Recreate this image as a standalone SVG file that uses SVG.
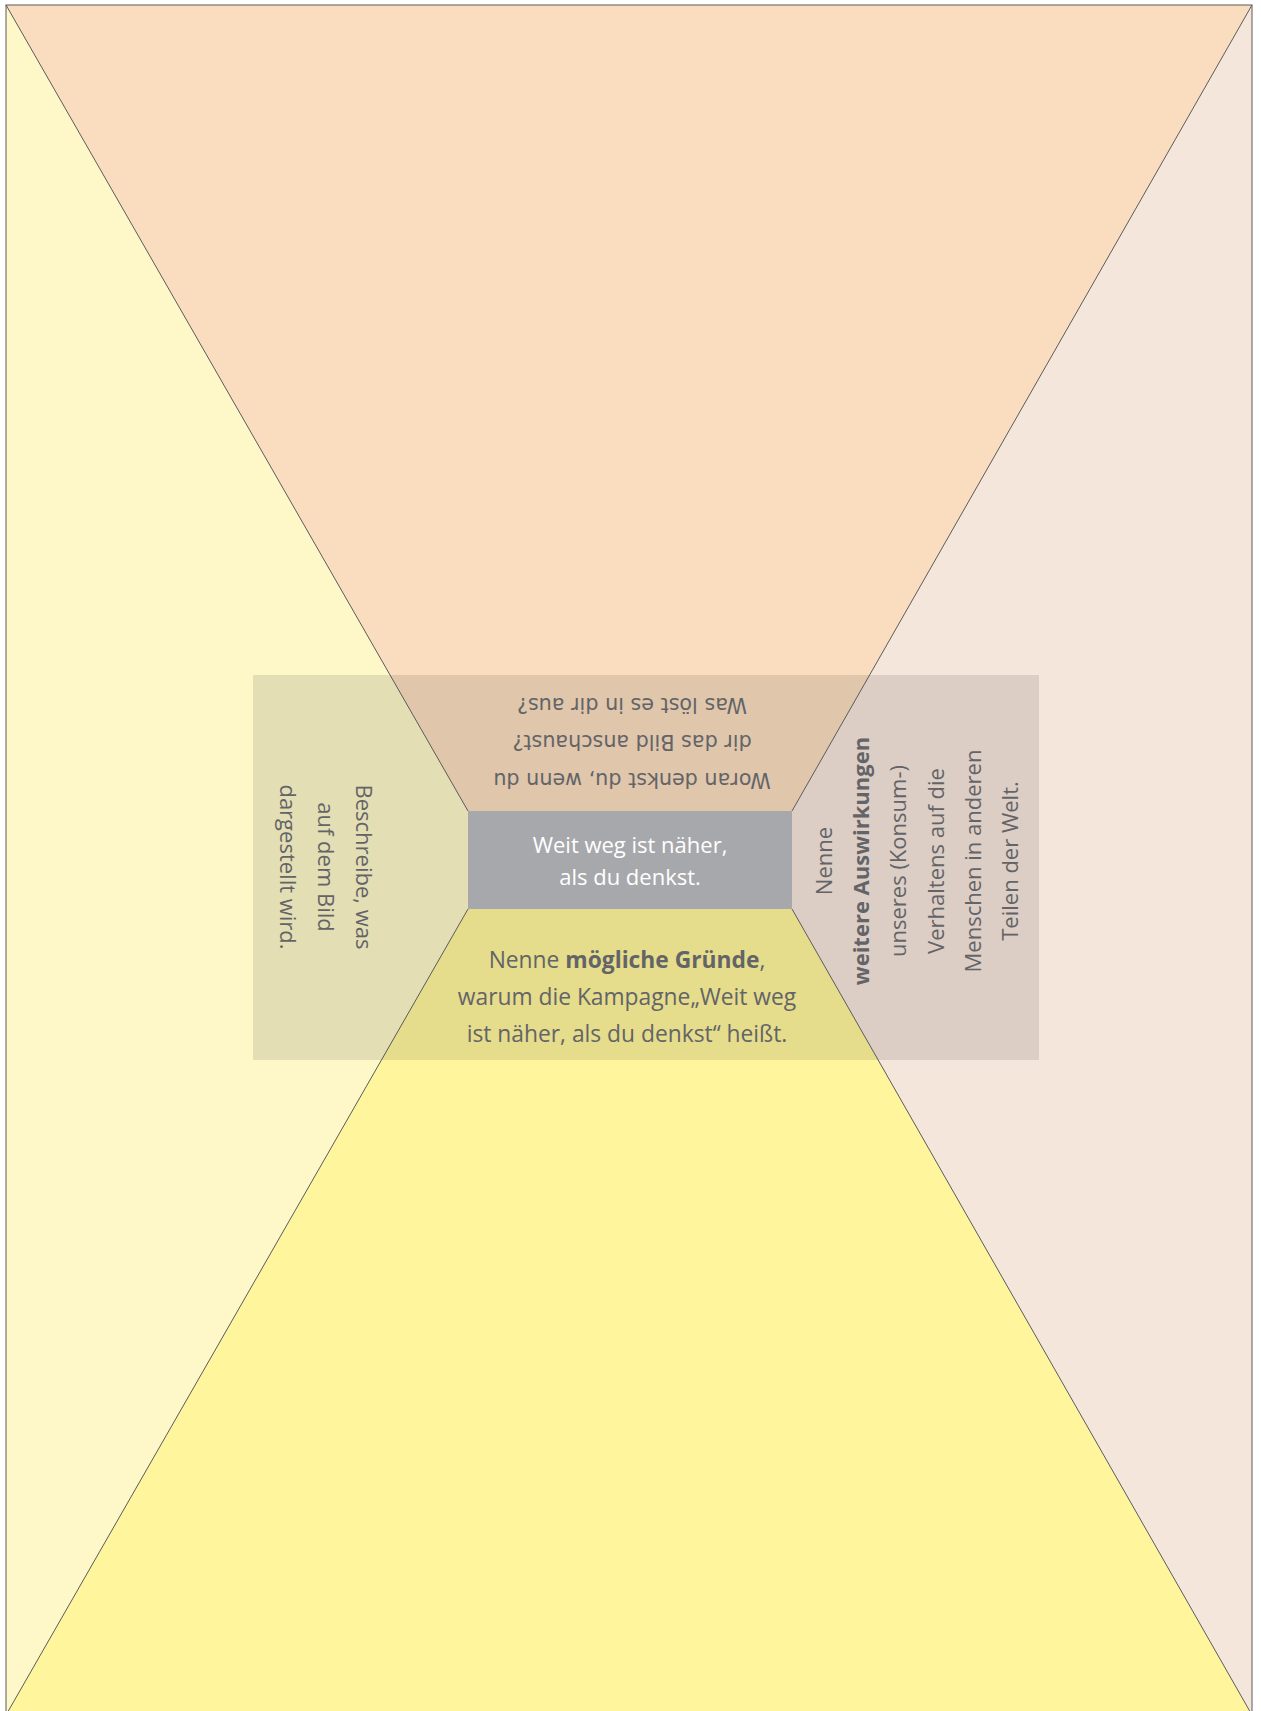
<svg xmlns="http://www.w3.org/2000/svg" width="1261" height="1711" viewBox="0 0 1261 1711">
  <style>
    .t { font-family: "Open Sans", "Liberation Sans", sans-serif; font-size: 22px; fill: #636468; text-anchor: middle; }
    .tb { font-size: 22.8px; }
    .tv { font-family: "DejaVu Sans", "Liberation Sans", sans-serif; font-size: 20.7px; fill: #636468; text-anchor: middle; }
    .w { font-family: "Open Sans", "Liberation Sans", sans-serif; font-size: 22px; fill: #ffffff; text-anchor: middle; }
    .b { font-weight: bold; }
    .edge { stroke: #5a5a5a; stroke-width: 1; fill: none; }
  </style>
  <rect x="0" y="0" width="1261" height="1711" fill="#ffffff"/>
  <g id="top-region">
    <polygon points="6,5 1252,5 792,811 468,811" fill="#FADDBF"/>
  </g>
  <g id="left-region">
    <polygon points="6,5 468,811 468,909 6,1715" fill="#FEF8C9"/>
  </g>
  <g id="right-region">
    <polygon points="1252,5 1252,1715 792,909 792,811" fill="#F5E6DC"/>
  </g>
  <g id="bottom-region">
    <polygon points="468,909 792,909 1252,1715 6,1715" fill="#FFF59C"/>
  </g>
  <g id="overlay">
    <rect x="253" y="675" width="786" height="385" fill="#000000" fill-opacity="0.1"/>
  </g>
  <g id="connectors">
    <line class="edge" x1="6" y1="5" x2="468" y2="811"/>
    <line class="edge" x1="1252" y1="5" x2="792" y2="811"/>
    <line class="edge" x1="6" y1="1715" x2="468" y2="909"/>
    <line class="edge" x1="1252" y1="1715" x2="792" y2="909"/>
    <rect class="edge" x="6" y="5" width="1246" height="1710"/>
  </g>
  <g id="center">
    <rect x="468" y="811" width="324" height="98" fill="#A7A8AC"/>
    <text class="w" x="630" y="853">Weit weg ist näher,</text>
    <text class="w" x="630" y="885">als du denkst.</text>
  </g>
  <g id="top-text" transform="rotate(180 632 735)">
    <text class="tv" x="632" y="697">Woran denkst du, wenn du</text>
    <text class="tv" x="632" y="735">dir das Bild anschaust?</text>
    <text class="tv" x="632" y="772">Was löst es in dir aus?</text>
  </g>
  <g id="left-text" transform="translate(356 867) rotate(90)">
    <text class="t" x="0" y="0">Beschreibe, was</text>
    <text class="t" x="0" y="38">auf dem Bild</text>
    <text class="t" x="0" y="76">dargestellt wird.</text>
  </g>
  <g id="right-text" transform="translate(832 861) rotate(-90)">
    <text class="t" x="0" y="0">Nenne</text>
    <text class="t b" x="0" y="37.2">weitere Auswirkungen</text>
    <text class="t" x="0" y="74.4">unseres (Konsum-)</text>
    <text class="t" x="0" y="111.6">Verhaltens auf die</text>
    <text class="t" x="0" y="148.8">Menschen in anderen</text>
    <text class="t" x="0" y="186">Teilen der Welt.</text>
  </g>
  <g id="bottom-text">
    <text class="t tb" x="627" y="968">Nenne <tspan class="b">mögliche Gründe</tspan>,</text>
    <text class="t tb" x="627" y="1005">warum die Kampagne„Weit weg</text>
    <text class="t tb" x="627" y="1042">ist näher, als du denkst“ heißt.</text>
  </g>
</svg>
